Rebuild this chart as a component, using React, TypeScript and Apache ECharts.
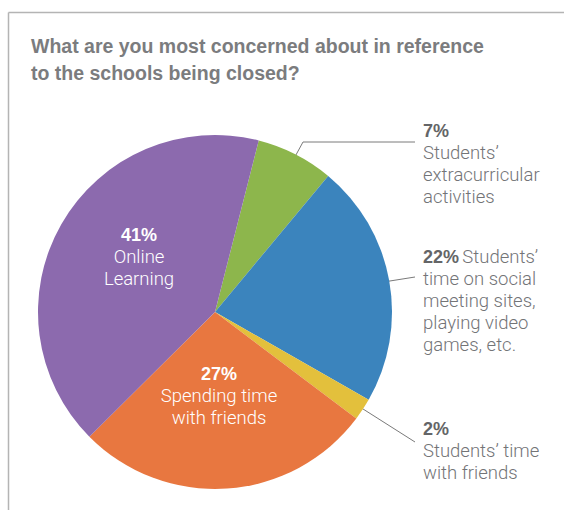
import React, { useEffect, useRef } from "react";
import * as echarts from "echarts";

const titleLines = ["What are you most concerned about in reference", "to the schools being closed?"];
const categories = [
  "Students’ extracurricular activities",
  "Students’ time on social meeting sites, playing video games, etc.",
  "Students’ time with friends",
  "Spending time with friends",
  "Online Learning",
];
const values = [7, 22, 2, 27, 41];
const labelTexts = [
  ["Students’", "extracurricular", "activities"],
  ["Students’", "time on social", "meeting sites,", "playing video", "games, etc."],
  ["Students’ time", "with friends"],
  ["Spending time", "with friends"],
  ["Online", "Learning"],
];
const colors = ["#8db64c", "#3b84bd", "#e3c03c", "#e87740", "#8c6aae"];

const CX = 215;
const CY = 312;
const R = 177;
const START = 14.3; // degrees clockwise from 12 o'clock

// label anchor positions (layout only)
const labelPos: Record<number, { x: number; y: number; inside: boolean }> = {
  0: { x: 423, y: 120, inside: false },
  1: { x: 423, y: 246, inside: false },
  2: { x: 423, y: 418, inside: false },
  3: { x: 219, y: 396, inside: true },
  4: { x: 139, y: 257, inside: true },
};

const total = values.reduce((a, b) => a + b, 0);
function midAngle(i: number) {
  let acc = 0;
  for (let k = 0; k < i; k++) acc += values[k];
  const a0 = START + (acc / total) * 360;
  return a0 + (values[i] / total) * 180;
}
function pointAt(deg: number, r: number): [number, number] {
  const rad = (deg * Math.PI) / 180;
  return [CX + r * Math.sin(rad), CY - r * Math.cos(rad)];
}

function fmt(i: number) {
  const pct = `${values[i]}%`;
  const lines = labelTexts[i];
  const inside = labelPos[i].inside;
  const b = inside ? "bw" : "b";
  const t = inside ? "tw" : "t";
  if (i === 1) {
    return [`{${b}|${pct}} {${t}|${lines[0]}}`, ...lines.slice(1).map((l) => `{${t}|${l}}`)].join("\n");
  }
  return [`{${b}|${pct}}`, ...lines.map((l) => `{${t}|${l}}`)].join("\n");
}

export default function App() {
  const ref = useRef<HTMLDivElement>(null);
  useEffect(() => {
    if (!ref.current) return;
    const chart = echarts.init(ref.current, null, { renderer: "svg" });
    const fontLight = "Roboto, 'Liberation Sans', Arial, sans-serif";
    const fontBold = "'Liberation Sans', Arial, Helvetica, sans-serif";
    const rich = {
      b: { fontFamily: fontBold, fontWeight: "bold", fontSize: 18, color: "#646567", lineHeight: 22 },
      t: { fontFamily: fontLight, fontWeight: 300, fontSize: 18.5, color: "#737477", lineHeight: 22 },
      bw: { fontFamily: fontBold, fontWeight: "bold", fontSize: 18, color: "#ffffff", lineHeight: 22 },
      tw: { fontFamily: fontLight, fontWeight: 300, fontSize: 18.5, color: "#ffffff", lineHeight: 22 },
    };
    const data = values.map((v, i) => ({
      name: categories[i],
      value: v,
      itemStyle: { color: colors[i] },
      label: {
        show: true,
        position: labelPos[i].inside ? "inside" : "outside",
        formatter: fmt(i),
        rich,
      },
      labelLine: { show: !labelPos[i].inside },
    }));
    chart.setOption({
      animation: false,
      backgroundColor: "#ffffff",
      title: {
        text: titleLines.join("\n"),
        left: 31,
        top: 32,
        padding: 0,
        textStyle: {
          fontFamily: fontBold,
          fontWeight: "bold",
          fontSize: 19.5,
          lineHeight: 27,
          color: "#7b7c7e",
        },
      },
      graphic: [
        { type: "line", shape: { x1: 8.5, y1: 12.5, x2: 564, y2: 12.5 }, style: { stroke: "#b4b4b4", lineWidth: 1.5 } },
        { type: "line", shape: { x1: 8.5, y1: 12.5, x2: 8.5, y2: 510 }, style: { stroke: "#b4b4b4", lineWidth: 1.5 } },
      ],
      series: [
        {
          type: "pie",
          center: [CX, CY],
          radius: [0, R],
          startAngle: 90 - START,
          clockwise: true,
          avoidLabelOverlap: false,
          itemStyle: { borderWidth: 0 },
          label: { show: true },
          labelLine: { show: true, lineStyle: { color: "#7a7a7a", width: 1 } },
          emphasis: { disabled: true },
          labelLayout: (params: any) => {
            const i = params.dataIndex;
            const p = labelPos[i];
            if (p.inside) {
              return { x: p.x, y: p.y, align: "center", verticalAlign: "middle" };
            }
            const m = midAngle(i);
            const s = pointAt(m, R * 0.84);
            let pts: number[][];
            if (i === 0) {
              pts = [s, [303, 142], [415, 142]];
            } else if (i === 1) {
              pts = [s, [(s[0] + 415) / 2, (s[1] + 277) / 2], [415, 277]];
            } else {
              pts = [s, [(s[0] + 415) / 2, (s[1] + 442) / 2], [415, 442]];
            }
            return { x: p.x, y: p.y, align: "left", verticalAlign: "top", labelLinePoints: pts };
          },
          data,
        },
      ],
    });
    return () => chart.dispose();
  }, []);
  return <div ref={ref} style={{ position: "fixed", left: 0, top: 0, width: 567, height: 510 }} />;
}
